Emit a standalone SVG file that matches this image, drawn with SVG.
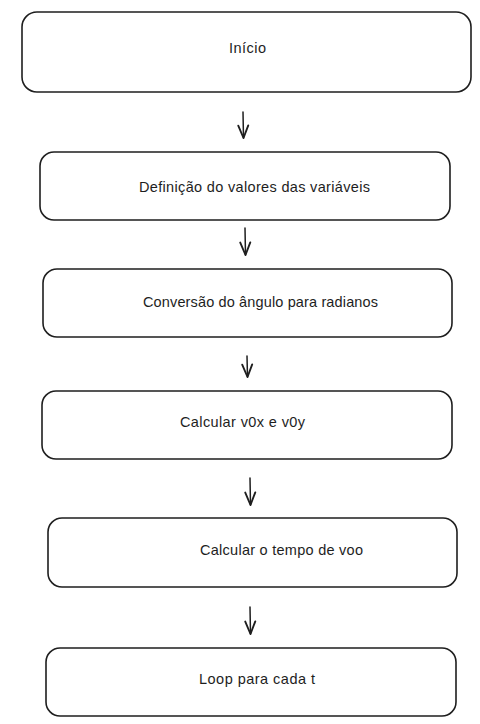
<svg xmlns="http://www.w3.org/2000/svg" width="480" height="724" viewBox="0 0 480 724">
  <style>
    .box { fill: #ffffff; stroke: #1e1e1e; stroke-width: 1.6; }
    .lbl { font-family: "Liberation Sans", Arial, sans-serif; font-size: 14.5px; fill: #1e1e1e; text-anchor: middle; }
    .conn { fill: none; stroke: #1e1e1e; stroke-width: 1.5; stroke-linecap: round; }
  </style>
  <defs>
    <marker id="arrow" markerUnits="userSpaceOnUse" markerWidth="20" markerHeight="20" refX="0" refY="0" viewBox="-12 -8 14 16" orient="auto" overflow="visible">
      <path d="M-10,-4 L0,0 L-10,4" fill="none" stroke="#1e1e1e" stroke-width="1.5" stroke-linecap="round" stroke-linejoin="round"/>
    </marker>
  </defs>
  <rect width="480" height="724" fill="#ffffff"/>

  <g id="node-inicio">
    <rect class="box" x="22" y="12" width="449" height="80" rx="15" ry="15"/>
    <text class="lbl" x="247.5" y="53" textLength="37" lengthAdjust="spacing">Início</text>
  </g>
  <g id="node-definicao">
    <rect class="box" x="40" y="152" width="410" height="68" rx="14" ry="14"/>
    <text class="lbl" x="254.5" y="192" textLength="231" lengthAdjust="spacing">Definição do valores das variáveis</text>
  </g>
  <g id="node-conversao">
    <rect class="box" x="43" y="269" width="409" height="68" rx="14" ry="14"/>
    <text class="lbl" x="260.5" y="307" textLength="235" lengthAdjust="spacing">Conversão do ângulo para radianos</text>
  </g>
  <g id="node-v0">
    <rect class="box" x="42" y="391" width="410" height="68" rx="14" ry="14"/>
    <text class="lbl" x="242.5" y="427" textLength="125" lengthAdjust="spacing">Calcular v0x e v0y</text>
  </g>
  <g id="node-tempo">
    <rect class="box" x="48" y="518" width="409" height="69" rx="14" ry="14"/>
    <text class="lbl" x="281.5" y="555" textLength="163" lengthAdjust="spacing">Calcular o tempo de voo</text>
  </g>
  <g id="node-loop">
    <rect class="box" x="46" y="648" width="410" height="68" rx="14" ry="14"/>
    <text class="lbl" x="257" y="684" textLength="116" lengthAdjust="spacing">Loop para cada t</text>
  </g>

  <g id="connectors">
    <path class="conn" d="M243,112 L243.5,138" marker-end="url(#arrow)"/>
    <path class="conn" d="M245,228 L245.5,255" marker-end="url(#arrow)"/>
    <path class="conn" d="M247,356 L247.5,377" marker-end="url(#arrow)"/>
    <path class="conn" d="M250,478 L250.5,505" marker-end="url(#arrow)"/>
    <path class="conn" d="M250,607 L250.5,634" marker-end="url(#arrow)"/>
  </g>
</svg>
